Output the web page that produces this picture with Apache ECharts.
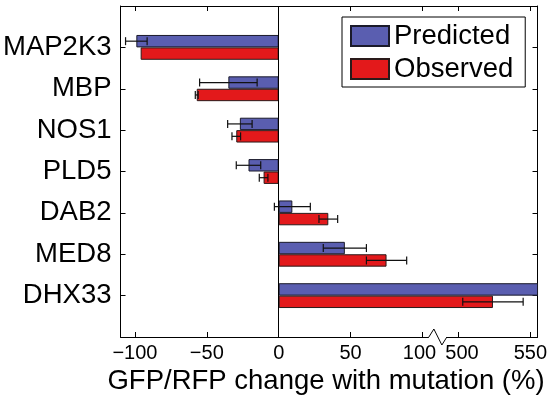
<!DOCTYPE html>
<html><head><meta charset="utf-8">
<script src="https://cdn.jsdelivr.net/npm/echarts@6/dist/echarts.min.js"></script>
<style>html,body{margin:0;padding:0;background:#fff}#c{width:550px;height:403px}</style>
</head><body><div id="c"></div>
<script>
// ---- data ----
const categories = ['MAP2K3', 'MBP', 'NOS1', 'PLD5', 'DAB2', 'MED8', 'DHX33'];
const predicted    = [-99, -35, -27, -21, 9.5, 46, 600];
const predictedErr = [7.5, 20, 8.5, 8.5, 12.5, 15, null];
const observed     = [-96, -57, -29.5, -10.5, 34.5, 75, 524];
const observedErr  = [null, 1, 3, 3, 6.5, 14, 21];
const tickValues   = [-100, -50, 0, 50, 100, 500, 550];
const axisRange    = [-110, 555];
const breakRange   = [110, 485];
const seriesNames  = ['Predicted', 'Observed'];
const xAxisTitle   = 'GFP/RFP change with mutation (%)';

// ---- helpers ----
const FONT = "'Liberation Sans', Arial, Helvetica, sans-serif";
const GAP = breakRange[1] - breakRange[0];
const fwd = v => (v <= breakRange[0] ? v : v - GAP);
const inv = t => (t <= breakRange[0] ? t : t + GAP);
const yCats = ['', ...categories, ''];
const pad = arr => ['-', ...arr.map(fwd), '-'];
const BLUE = '#5a5eb0', RED = '#e3191b';
const BAR_FRAC = 0.3;

function errData(vals, errs, sign) {
  const out = [];
  vals.forEach((v, i) => {
    if (errs[i] != null) out.push([fwd(v - errs[i]), fwd(v + errs[i]), i + 1, sign]);
  });
  return out;
}
function renderErr(params, api) {
  const lo = api.coord([api.value(0), api.value(2)]);
  const hi = api.coord([api.value(1), api.value(2)]);
  const band = api.size([0, 1])[1];
  const y = lo[1] + api.value(3) * band * BAR_FRAC / 2;
  const cap = 4;
  const style = { stroke: '#111', lineWidth: 1.2 };
  return { type: 'group', children: [
    { type: 'line', shape: { x1: lo[0], y1: y, x2: hi[0], y2: y }, style },
    { type: 'line', shape: { x1: lo[0], y1: y - cap, x2: lo[0], y2: y + cap }, style },
    { type: 'line', shape: { x1: hi[0], y1: y - cap, x2: hi[0], y2: y + cap }, style }
  ]};
}
const fmt = t => {
  const v = Math.round(inv(t));
  const s = v < 0 ? '\u2212' + Math.abs(v) : String(v);
  if (v === breakRange[0] - 10) return '{l|' + s + '}';
  if (v > breakRange[0]) return v === tickValues[tickValues.length - 2] ? '{r|' + s + '}' : s;
  return s;
};
const tickT = tickValues.map(fwd);
const catTick = (idx, val) => val !== '';

const chart = echarts.init(document.getElementById('c'), null, { renderer: 'canvas' });
chart.setOption({
  animation: false,
  backgroundColor: '#fff',
  textStyle: { fontFamily: FONT },
  grid: { left: 119, right: 12, top: 6, bottom: 66, containLabel: false },
  legend: {
    data: seriesNames, orient: 'vertical', left: 342, top: 17,
    padding: [5, 12, 4, 8], itemGap: 5, itemWidth: 38, itemHeight: 20,
    icon: 'rect', borderColor: '#000', borderWidth: 1, backgroundColor: '#fff',
    textStyle: { fontFamily: FONT, fontSize: 27.5, color: '#000', lineHeight: 24 },
    selectedMode: false
  },
  xAxis: [{
    type: 'value', min: fwd(axisRange[0]), max: fwd(axisRange[1]), position: 'bottom',
    axisLine: { show: true, onZero: false, lineStyle: { color: '#000', width: 1 } },
    axisTick: { show: true, inside: true, length: 5, customValues: tickT, lineStyle: { color: '#000' } },
    axisLabel: {
      customValues: tickT, formatter: fmt, fontFamily: FONT, fontSize: 20, color: '#000', margin: 6,
      rich: {
        l: { fontFamily: FONT, fontSize: 20, color: '#000', padding: [0, 6, 0, 0] },
        r: { fontFamily: FONT, fontSize: 20, color: '#000', padding: [0, 0, 0, 7] }
      }
    },
    splitLine: { show: false },
    name: xAxisTitle, nameLocation: 'middle', nameGap: 30,
    nameTextStyle: { fontFamily: FONT, fontSize: 27.5, color: '#000', padding: [0, 6, 0, 0] }
  }, {
    type: 'value', min: fwd(axisRange[0]), max: fwd(axisRange[1]), position: 'top',
    axisLine: { show: true, onZero: false, lineStyle: { color: '#000', width: 1 } },
    axisTick: { show: true, inside: true, length: 5, customValues: tickT, lineStyle: { color: '#000' } },
    axisLabel: { show: false }, splitLine: { show: false }
  }],
  yAxis: [{
    type: 'category', data: yCats, inverse: true, boundaryGap: false, position: 'left',
    axisLine: { show: true, onZero: false, lineStyle: { color: '#000', width: 1 } },
    axisTick: { show: true, inside: true, length: 5, interval: catTick, lineStyle: { color: '#000' } },
    axisLabel: { interval: 0, fontFamily: FONT, fontSize: 27.5, color: '#000', margin: 9 },
    splitLine: { show: false }
  }, {
    type: 'category', data: yCats, inverse: true, boundaryGap: false, position: 'right',
    axisLine: { show: true, onZero: false, lineStyle: { color: '#000', width: 1 } },
    axisTick: { show: true, inside: true, length: 5, interval: catTick, lineStyle: { color: '#000' } },
    axisLabel: { show: false }, splitLine: { show: false }
  }],
  series: [{
    name: seriesNames[0], type: 'bar', xAxisIndex: 0, yAxisIndex: 0,
    data: pad(predicted), barWidth: (BAR_FRAC * 100) + '%', barGap: '0%', clip: true,
    itemStyle: { color: BLUE, borderColor: '#1a1a2a', borderWidth: 1 },
    markLine: {
      silent: true, symbol: ['none', 'none'], label: { show: false },
      lineStyle: { color: '#000', width: 1, type: 'solid' },
      data: [{ xAxis: 0 }]
    }
  }, {
    name: seriesNames[1], type: 'bar', xAxisIndex: 0, yAxisIndex: 0,
    data: pad(observed), barWidth: (BAR_FRAC * 100) + '%', barGap: '0%', clip: true,
    itemStyle: { color: RED, borderColor: '#2a1a1a', borderWidth: 1 }
  }, {
    type: 'custom', xAxisIndex: 0, yAxisIndex: 0, z: 5,
    dimensions: ['lo', 'hi', 'cat', 'sign'], encode: { x: [0, 1], y: 2 },
    renderItem: renderErr, data: errData(predicted, predictedErr, -1)
  }, {
    type: 'custom', xAxisIndex: 0, yAxisIndex: 0, z: 5,
    dimensions: ['lo', 'hi', 'cat', 'sign'], encode: { x: [0, 1], y: 2 },
    renderItem: renderErr, data: errData(observed, observedErr, 1)
  }]
});

// axis-break zigzag on bottom axis
const bx = chart.convertToPixel({ xAxisIndex: 0 }, fwd(breakRange[0]));
const by = chart.convertToPixel({ yAxisIndex: 0 }, yCats.length - 1);
chart.setOption({
  graphic: [
    { type: 'rect', z: 100, shape: { x: bx - 8, y: by - 1.5, width: 18, height: 3 }, style: { fill: '#fff' } },
    { type: 'polyline', z: 101, shape: { points: [[bx - 8, by], [bx - 3, by - 8], [bx + 5, by + 8], [bx + 10, by]] },
      style: { stroke: '#000', lineWidth: 1, fill: null } }
  ]
});
</script>
</body></html>
